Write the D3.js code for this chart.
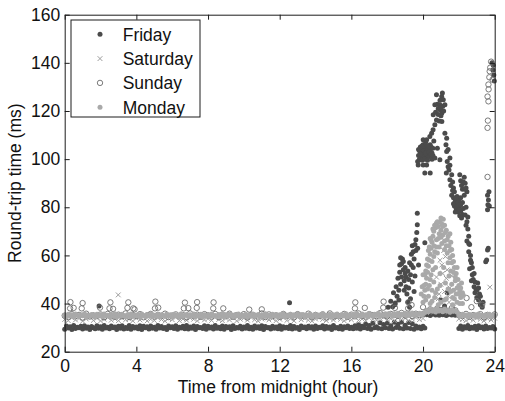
<!DOCTYPE html>
<html>
<head>
<meta charset="utf-8">
<script src="https://cdn.jsdelivr.net/npm/d3@7"></script>
<style>
  html, body { margin: 0; padding: 0; background: #fff; }
  text { font-family: "Liberation Sans", Arial, Helvetica, sans-serif; fill: #111; }
</style>
</head>
<body>
<svg id="chart" width="505" height="401"></svg>
<script>
// Axis ticks
const xTicks = [0, 4, 8, 12, 16, 20, 24];
const yTicks = [20, 40, 60, 80, 100, 120, 140, 160];
const seriesNames = ["Friday", "Saturday", "Sunday", "Monday"];

// Steady-state round-trip times (ms), one reading every fridayStep hours from midnight
const fridayStep = 0.1;
const fridayBase = [
  29.3, 30.7, 29.8, 30.4, 29.2, 30.9, 29.6, 30.2, 29.9, 30.6, 29.4, 30.8, 29.7, 30.3, 29.2, 30.5, 30.0, 29.5, 30.8, 29.7,
  30.4, 29.3, 30.9, 29.8, 30.2, 29.5, 30.7, 29.9, 30.3, 29.2, 30.6, 29.7, 30.8, 29.4, 30.1, 29.6, 30.9, 29.3, 30.5, 29.8,
  30.3, 29.5, 30.8, 29.2, 30.6, 29.9, 30.4, 29.4, 30.7, 29.7, 30.2, 29.3, 30.9, 29.8, 30.5, 29.6, 30.1, 29.2, 30.7, 29.9,
  30.4, 29.6, 30.8, 29.3, 30.2, 29.8, 30.6, 29.5, 30.9, 29.4, 30.3, 29.7, 30.7, 29.2, 30.5, 29.9, 30.1, 29.6, 30.8, 29.3,
  30.6, 29.8, 30.3, 29.4, 30.9, 29.7, 30.2, 29.5, 30.7, 29.3, 30.5, 29.9, 30.4, 29.2, 30.8, 29.6, 30.1, 29.8, 30.6, 29.4,
  30.3, 29.7, 30.9, 29.5, 30.2, 29.3, 30.7, 29.8, 30.4, 29.6, 30.8, 29.2, 30.5, 29.9, 30.1, 29.4, 30.6, 29.7, 30.3, 29.5,
  30.8, 29.3, 30.4, 29.8, 30.2, 29.6, 30.9, 29.4, 30.5, 29.7, 30.1, 29.2, 30.7, 29.9, 30.3, 29.5, 30.6, 29.8, 30.4, 29.3,
  30.7, 29.6, 30.2, 29.9, 30.8, 29.4, 30.5, 29.7, 30.3, 29.2, 30.9, 29.8, 30.1, 29.5, 30.6, 29.3, 30.4, 29.9, 30.7, 29.6,
  30.2, 29.5, 30.8, 29.7, 31.2, 29.4, 30.6, 29.9, 31.5, 29.6, 30.9, 29.3, 31.8, 30.0, 30.4, 29.7, 32.0, 29.5, 31.3, 29.9,
  31.9, 29.6, 30.8, 29.4, 32.2, 30.1, 31.4, 29.7, 32.3, 29.5, 31.0, 29.8, 32.1, 29.6, 31.6, 29.3, 30.7, 29.8, 30.3, 29.5,
  30.6, 29.8, 35.3, 35.9, 35.0, 35.6, 36.0, 35.2, 35.7, 35.1, 35.9, 35.4, 35.8, 35.0, 35.5, 36.1, 35.2, 35.7, 35.1, 35.8,
  29.6, 30.7, 29.3, 30.4, 29.8, 30.9, 29.5, 30.2, 29.7, 30.6, 29.2, 30.8, 29.9, 30.3, 29.4, 30.7, 29.6, 30.1, 29.8, 30.5,
  29.4
];
// Friday evening congestion and isolated spikes: [hour, ms]
const fridayPeak = [
  [1.92, 39.0], [12.55, 40.3], [18.43, 39.5],
  [18.05, 38.5], [18.2, 41.0], [18.3, 38.7], [18.35, 44.5], [18.45, 40.2], [18.5, 47.0], [18.55, 43.0],
  [18.6, 50.5], [18.65, 45.5], [18.7, 53.0], [18.75, 48.0], [18.8, 56.5], [18.8, 51.0], [18.85, 58.5],
  [18.9, 54.0], [18.95, 49.5], [19.0, 52.5], [19.05, 47.0], [19.1, 44.0], [19.15, 40.5], [19.2, 46.5],
  [19.25, 38.5], [19.3, 52.0], [19.3, 42.0], [19.35, 56.0], [19.35, 60.5], [19.4, 64.0], [19.4, 49.0],
  [19.45, 55.0], [19.5, 58.5], [19.5, 45.0], [19.55, 51.5], [19.6, 62.0], [19.6, 66.5], [19.65, 69.5],
  [19.68, 72.7], [19.68, 77.5], [19.7, 63.0], [19.75, 56.0], [20.1, 65.3],
  [18.7, 56.0], [18.75, 59.0], [18.9, 57.5], [19.0, 55.0], [19.05, 51.0], [19.15, 53.5], [19.2, 50.0],
  [19.25, 57.0], [18.95, 45.5], [18.65, 41.5], [19.45, 61.5], [19.55, 64.5],
  [19.73, 97.6], [20.01, 97.6], [20.2, 97.6], [20.1, 94.2], [20.4, 94.2], [19.7, 99.0], [19.75, 101.5],
  [19.8, 103.5], [19.85, 105.0], [19.9, 100.5], [19.95, 102.5], [20.0, 104.5], [20.0, 106.0], [20.05, 101.0],
  [20.1, 103.0], [20.15, 105.5], [20.2, 100.5], [20.25, 102.0], [20.3, 104.0], [20.35, 101.5], [20.4, 103.5],
  [20.45, 105.0], [20.5, 102.5], [20.55, 104.5], [19.9, 104.0], [20.05, 103.5], [20.2, 103.5], [20.3, 101.0],
  [19.8, 100.0], [19.85, 102.0], [19.95, 99.5], [20.05, 105.5], [20.1, 100.0], [20.15, 102.5], [20.25, 104.5],
  [20.35, 103.0], [20.45, 102.0], [20.5, 100.0], [20.4, 106.0], [19.95, 105.5], [20.25, 99.5], [20.55, 101.5],
  [20.15, 107.0], [19.75, 104.0],
  [20.01, 108.0], [20.2, 108.0], [20.3, 105.5], [20.38, 109.4], [20.48, 110.8], [20.56, 112.2], [20.66, 114.3],
  [20.57, 118.4], [20.75, 116.3], [20.9, 115.8], [21.05, 115.6], [20.94, 120.5], [21.05, 119.2], [21.0, 118.0],
  [20.66, 122.6], [20.8, 122.8], [20.94, 122.6], [21.1, 122.0], [21.22, 122.6], [20.85, 121.0], [21.0, 121.5],
  [20.75, 126.7], [21.04, 126.0], [21.13, 124.7], [21.08, 127.5], [20.7, 119.5], [20.85, 118.5], [20.95, 124.5],
  [21.15, 120.0], [20.66, 100.5], [20.94, 99.7], [20.8, 104.5],
  [20.6, 107.5], [21.22, 110.8], [21.32, 108.7], [21.32, 103.2], [21.4, 104.0], [21.5, 100.5], [21.5, 97.5],
  [21.45, 95.5], [21.4, 96.8], [21.3, 94.2], [21.5, 91.4], [21.35, 99.0], [21.28, 106.0],
  [21.6, 93.5], [21.65, 90.5], [21.7, 88.0], [21.75, 86.4], [21.6, 85.0], [21.7, 84.0], [21.8, 82.5],
  [21.75, 80.5], [21.85, 79.5], [21.9, 81.5], [21.95, 78.0], [22.0, 80.0], [22.05, 76.5], [22.1, 78.5],
  [22.15, 75.5], [22.0, 83.0], [22.1, 84.0], [22.2, 82.0], [21.9, 84.5], [22.05, 93.5], [22.1, 91.0],
  [22.15, 89.0], [22.2, 87.5], [22.3, 92.5], [22.35, 90.0], [22.4, 88.0], [22.45, 86.4], [22.3, 85.0],
  [21.7, 81.5], [21.8, 78.0], [21.85, 84.0], [21.95, 82.0], [22.05, 79.0], [22.1, 81.0], [22.2, 77.0],
  [21.65, 87.0], [21.55, 89.0], [22.25, 90.5], [22.35, 87.5], [22.25, 79.5],
  [22.4, 80.0], [22.35, 76.8], [22.45, 74.0], [22.5, 71.0], [22.55, 68.0], [22.45, 66.0], [22.6, 64.5],
  [22.55, 61.5], [22.65, 60.0], [22.7, 57.0], [22.6, 54.5], [22.75, 52.0], [22.7, 49.5], [22.8, 50.0],
  [22.85, 47.0], [22.9, 44.5], [22.95, 46.0], [23.0, 42.5], [23.05, 48.5], [23.1, 41.5], [23.15, 44.0],
  [22.5, 76.0], [22.4, 72.5], [22.55, 65.0], [22.65, 58.0], [22.75, 55.0], [22.85, 52.5], [22.9, 49.0],
  [23.0, 45.5], [23.1, 46.5], [23.2, 43.0],
  [23.2, 39.5], [23.3, 38.5], [23.35, 40.5], [21.0, 41.5], [21.2, 39.0], [21.35, 44.5],
  [23.5, 57.4], [23.55, 58.1], [23.6, 62.3], [23.64, 63.0], [23.6, 79.0], [23.62, 81.0], [23.65, 83.0],
  [23.6, 85.0], [23.68, 86.4], [23.7, 80.5], [23.85, 140.0], [23.9, 137.0], [23.95, 135.0], [23.98, 132.5],
  [23.92, 139.0]
];

// Saturday: one reading every saturdayStep hours
const saturdayStep = 0.2;
const saturdayBase = [
  33.4, 32.9, 34.1, 33.2, 33.8, 32.7, 33.6, 34.3, 33.0, 33.9, 32.8, 33.5, 34.2, 33.1, 33.7, 32.9, 34.0, 33.3, 33.6, 32.8,
  33.9, 33.2, 34.4, 32.8, 33.5, 33.0, 34.1, 33.4, 32.7, 33.8, 33.3, 34.2, 32.9, 33.6, 33.1, 34.0, 33.5, 32.8, 33.9, 33.2,
  33.7, 33.0, 34.3, 33.4, 32.9, 33.8, 33.2, 34.1, 32.8, 33.5, 33.9, 33.1, 34.2, 33.3, 32.7, 33.6, 34.0, 33.2, 33.8, 32.9,
  33.5, 34.1, 33.0, 33.7, 32.8, 34.3, 33.3, 33.9, 33.1, 32.7, 33.6, 34.2, 33.4, 32.9, 33.8, 33.2, 34.0, 33.5, 32.8, 33.7,
  33.3, 34.2, 33.0, 33.6, 32.9, 34.0, 33.5, 33.1, 33.8, 34.3, 33.2, 33.7, 32.9, 34.1, 33.4, 33.9, 33.0, 33.6, 34.2, 33.3,
  33.8, 36.2, 37.0, 36.5, 37.4, 36.7, 37.2, 36.4, 37.5, 36.8,
  33.6, 33.4, 32.9, 33.8, 33.1, 34.0, 33.5, 32.8, 33.7, 33.2, 33.9
];
const saturdayPeak = [
  [2.99, 43.6], [23.73, 46.8],
  [20.9, 44.0], [21.0, 48.0], [21.1, 52.5], [21.2, 45.0], [21.3, 50.5], [21.4, 43.0], [21.05, 56.0],
  [21.25, 59.5], [21.15, 62.0], [20.95, 58.0], [21.35, 54.0], [21.5, 46.5], [20.75, 51.0], [21.6, 51.5],
  [20.85, 42.0], [21.45, 40.5], [21.7, 38.5]
];

// Sunday: one reading every sundayStep hours
const sundayStep = 0.2;
const sundayBase = [
  35.0, 34.4, 35.6, 34.8, 35.3, 34.2, 35.8, 34.6, 35.1, 34.9, 35.5, 34.3, 35.7, 35.0, 34.5, 35.4, 34.7, 35.9, 34.4, 35.2,
  34.8, 35.6, 34.3, 35.1, 35.7, 34.6, 35.3, 34.9, 35.8, 34.4, 35.0, 35.5, 34.7, 35.2, 34.3, 35.9, 34.8, 35.4, 34.5, 35.6,
  35.1, 34.6, 35.7, 34.3, 35.4, 34.9, 35.8, 34.5, 35.2, 34.7, 35.6, 34.2, 35.3, 35.0, 34.6, 35.9, 34.4, 35.5, 34.8, 35.1,
  34.5, 35.7, 34.9, 35.2, 34.3, 35.6, 35.0, 34.7, 35.8, 34.4, 35.3, 34.8, 35.5, 34.2, 35.9, 34.6, 35.1, 34.9, 35.7, 34.5,
  35.4, 34.7, 35.9, 35.0, 34.6, 35.6, 35.2, 34.8, 36.0, 35.1, 34.7, 35.7, 35.3, 34.9, 36.1, 35.0, 35.5, 34.8, 35.8, 35.2,
  35.6, 36.8, 37.6, 37.0, 38.0, 37.3, 37.8, 36.9, 38.1, 37.2,
  35.4, 34.8, 35.7, 34.5, 35.2, 34.9, 35.6, 34.3, 35.3, 34.7, 35.5
];
const sundayPeak = [
  [0.3, 38.0], [0.32, 40.6], [0.5, 38.2], [0.95, 38.0], [1.0, 40.2], [1.97, 38.3], [2.5, 38.0], [2.55, 40.5],
  [2.7, 37.8], [3.5, 38.2], [3.55, 40.5], [3.83, 38.0], [3.9, 37.6], [5.04, 38.0], [5.06, 40.8], [5.22, 38.3],
  [6.65, 38.0], [6.71, 40.4], [6.9, 38.1], [7.37, 38.2], [7.39, 40.6], [8.29, 38.0], [8.31, 40.5], [8.85, 38.0],
  [10.3, 37.5], [11.0, 37.6], [16.2, 38.0], [16.22, 40.5], [16.75, 38.2], [17.78, 38.3], [17.8, 40.8],
  [18.43, 38.2], [19.17, 38.0], [19.19, 40.6], [19.36, 39.4], [20.0, 38.5], [22.43, 42.3], [23.0, 41.0],
  [22.7, 38.5], [23.3, 39.5],
  [23.6, 92.6], [23.6, 113.0], [23.62, 116.0], [23.65, 124.0], [23.6, 126.0], [23.65, 131.0], [23.7, 134.0],
  [23.75, 138.0], [23.8, 140.5], [23.72, 136.5], [23.88, 133.0], [23.66, 129.0]
];

// Monday: one reading every mondayStep hours
const mondayStep = 0.1;
const mondayBase = [
  35.0, 34.5, 35.6, 34.8, 35.3, 34.4, 35.7, 35.1, 34.6, 35.4, 34.9, 35.8, 34.5, 35.2, 34.7, 35.5, 35.0, 34.4, 35.6, 34.8,
  35.3, 34.6, 35.7, 34.9, 35.1, 34.5, 35.5, 34.8, 35.8, 34.4, 35.2, 34.7, 35.6, 35.0, 34.5, 35.4, 34.9, 35.7, 34.6, 35.2,
  34.8, 35.5, 34.4, 35.7, 35.0, 34.6, 35.3, 34.9, 35.8, 34.5, 35.1, 34.7, 35.6, 34.4, 35.4, 35.0, 34.6, 35.7, 34.8, 35.3,
  34.5, 35.6, 34.9, 35.2, 34.4, 35.8, 34.7, 35.0, 35.5, 34.6, 35.3, 34.8, 35.7, 34.5, 35.1, 34.9, 35.6, 34.4, 35.4, 34.7,
  35.2, 34.6, 35.7, 34.9, 35.0, 34.5, 35.5, 34.8, 35.8, 34.4, 35.3, 34.7, 35.6, 35.0, 34.6, 35.4, 34.9, 35.7, 34.5, 35.1,
  34.8, 35.6, 34.4, 35.3, 34.9, 35.7, 34.6, 35.0, 35.5, 34.5, 35.2, 34.8, 35.8, 34.7, 35.1, 34.4, 35.6, 34.9, 35.3, 34.6,
  35.4, 34.7, 35.8, 34.5, 35.0, 34.9, 35.6, 34.4, 35.3, 34.8, 35.7, 34.6, 35.1, 35.5, 34.5, 35.2, 34.8, 35.7, 34.4, 35.0,
  35.5, 34.6, 35.2, 34.9, 35.8, 34.5, 35.1, 34.7, 35.6, 34.4, 35.3, 34.9, 35.7, 34.6, 35.0, 35.4, 34.8, 35.8, 34.5, 35.2,
  34.9, 35.6, 34.6, 35.9, 35.1, 34.7, 35.7, 35.0, 35.4, 34.6, 35.9, 35.2, 34.8, 35.6, 35.0, 36.0, 34.7, 35.4, 35.1, 35.8,
  34.9, 35.9, 35.3, 34.7, 35.8, 35.1, 36.0, 34.9, 35.6, 35.3, 36.0, 35.0, 35.7, 35.4, 36.1, 35.1, 35.8, 35.5, 36.0, 35.3,
  35.8, 36.3, 37.1, 36.6, 37.5, 36.9, 37.3, 36.5, 37.7, 37.0, 37.2, 36.6, 37.6, 36.9, 37.1, 36.4, 37.4, 36.8, 37.0, 36.5,
  35.3, 34.7, 35.6, 34.9, 35.2, 34.5, 35.5, 35.0, 34.8, 35.4, 34.4, 35.7, 34.9, 35.1, 34.6, 35.4, 34.8, 35.6, 34.5, 35.2,
  34.9
];
const mondayPeak = [
  [19.9, 44.0], [19.95, 47.0], [20.0, 52.0],
  [20.0, 40.5], [20.05, 43.0], [20.1, 45.5], [20.15, 48.0], [20.2, 50.5], [20.1, 52.0], [20.25, 53.0],
  [20.3, 55.5], [20.2, 56.0], [20.35, 58.0], [20.4, 60.5], [20.3, 62.0], [20.45, 63.0], [20.5, 65.5],
  [20.4, 67.0], [20.55, 68.0], [20.6, 70.0], [20.7, 71.5], [20.75, 73.5], [20.85, 72.0], [20.95, 74.0],
  [21.05, 73.0], [21.13, 75.0], [21.2, 72.5], [21.3, 70.5], [21.4, 68.0], [21.5, 69.0], [21.55, 65.5],
  [21.6, 62.5], [21.65, 60.0], [21.7, 57.5], [21.75, 55.0], [21.85, 52.5], [21.9, 55.0], [21.95, 50.0],
  [22.0, 47.5], [22.05, 45.0], [22.1, 42.5], [22.2, 40.0], [22.25, 43.5], [22.15, 48.5],
  [20.6, 64.0], [20.75, 66.5], [20.9, 69.0], [21.0, 70.5], [21.1, 68.5], [21.2, 66.0], [21.3, 64.0],
  [21.35, 61.0], [20.8, 61.0], [20.9, 63.5], [21.05, 65.0], [20.5, 57.5], [20.6, 59.5], [20.7, 55.0],
  [21.4, 57.0], [21.5, 59.0], [21.55, 53.5], [20.45, 52.0], [20.35, 47.5], [20.5, 45.5], [20.6, 49.0],
  [20.65, 42.5], [21.6, 48.0], [21.7, 45.5], [21.75, 42.0], [21.8, 49.5], [20.3, 43.0], [20.8, 46.0],
  [21.65, 39.5], [20.4, 40.0], [21.9, 40.5], [21.25, 48.5], [20.95, 52.5], [21.15, 55.0], [21.3, 42.0],
  [21.0, 40.5], [20.85, 39.5],
  [20.05, 47.5], [20.15, 53.5], [20.25, 58.5], [20.35, 63.5], [20.45, 66.5], [20.55, 71.0], [20.65, 72.5],
  [20.8, 74.0], [21.0, 75.5], [21.1, 72.0], [21.25, 69.5], [21.35, 66.5], [21.45, 64.0], [21.5, 62.0],
  [21.6, 57.0], [21.7, 53.0], [21.8, 51.0], [21.9, 46.5], [22.0, 44.0], [22.1, 46.5], [22.2, 44.5],
  [20.25, 46.0], [20.4, 50.0], [20.55, 54.0], [20.65, 61.5], [20.75, 63.5], [20.85, 67.0], [21.0, 67.5],
  [21.2, 62.5], [21.45, 51.5], [21.55, 45.0], [21.65, 42.5], [20.15, 41.5], [20.5, 41.0], [21.85, 44.0],
  [22.05, 40.0], [20.7, 44.5], [20.95, 47.5], [21.2, 41.5], [21.4, 46.0]
];

// ---- layout ----
const svg = d3.select("#chart");
const plot = { left: 64.7, right: 494.7, top: 14.7, bottom: 351.7 };
const x = d3.scaleLinear().domain([0, 24]).range([plot.left, plot.right]);
const y = d3.scaleLinear().domain([20, 160]).range([plot.bottom, plot.top]);
const axisColor = "#1c1c1c";
const fontSize = 17.5;

const withTimes = (values, step) => values.map((v, i) => [i * step, v]);

const series = [
  { name: seriesNames[0], shape: "dot",    color: "#4b4b4b", points: withTimes(fridayBase, fridayStep).concat(fridayPeak) },
  { name: seriesNames[1], shape: "cross",  color: "#9e9e9e", points: withTimes(saturdayBase, saturdayStep).concat(saturdayPeak) },
  { name: seriesNames[2], shape: "circle", color: "#6c6c6c", points: withTimes(sundayBase, sundayStep).concat(sundayPeak) },
  { name: seriesNames[3], shape: "dot",    color: "#a9a9a9", points: withTimes(mondayBase, mondayStep).concat(mondayPeak) }
];

function drawMarker(sel, shape, color) {
  if (shape === "dot") {
    sel.append("circle").attr("r", 2.5).attr("fill", color);
  } else if (shape === "circle") {
    sel.append("circle").attr("r", 2.7).attr("fill", "none").attr("stroke", color).attr("stroke-width", 0.9);
  } else {
    sel.append("path").attr("d", "M-2.4,-2.4L2.4,2.4M-2.4,2.4L2.4,-2.4")
      .attr("stroke", color).attr("stroke-width", 1).attr("fill", "none");
  }
}

// markers, Friday first so Monday ends up on top
series.forEach(s => {
  const g = svg.append("g").attr("class", "series");
  const marks = g.selectAll("g").data(s.points).join("g")
    .attr("transform", d => `translate(${x(d[0])},${y(d[1])})`);
  drawMarker(marks, s.shape, s.color);
});

// axes with inward ticks on every side
const styleAxis = g => {
  g.selectAll(".domain").attr("stroke", axisColor);
  g.selectAll(".tick line").attr("stroke", axisColor);
  g.selectAll(".tick text").attr("font-size", fontSize).attr("fill", "#111")
    .attr("font-family", '"Liberation Sans", Arial, sans-serif');
};
svg.append("g").attr("transform", `translate(0,${plot.bottom})`)
  .call(d3.axisBottom(x).tickValues(xTicks).tickSizeInner(-5).tickSizeOuter(0).tickPadding(7.5))
  .call(styleAxis);
svg.append("g").attr("transform", `translate(${plot.left},0)`)
  .call(d3.axisLeft(y).tickValues(yTicks).tickSizeInner(-5).tickSizeOuter(0).tickPadding(4.5))
  .call(styleAxis);
svg.append("g").attr("transform", `translate(0,${plot.top})`)
  .call(d3.axisTop(x).tickValues(xTicks).tickSizeInner(-5).tickSizeOuter(0).tickFormat(""))
  .call(styleAxis);
svg.append("g").attr("transform", `translate(${plot.right},0)`)
  .call(d3.axisRight(y).tickValues(yTicks).tickSizeInner(-5).tickSizeOuter(0).tickFormat(""))
  .call(styleAxis);

// axis titles
svg.append("text")
  .attr("x", 278).attr("y", 393)
  .attr("text-anchor", "middle").attr("font-size", fontSize)
  .text("Time from midnight (hour)");
svg.append("text")
  .attr("transform", `translate(20.5,${(plot.top + plot.bottom) / 2}) rotate(-90)`)
  .attr("text-anchor", "middle").attr("font-size", fontSize)
  .text("Round-trip time (ms)");

// legend
const legend = svg.append("g");
legend.append("rect").attr("x", 71).attr("y", 20).attr("width", 129).attr("height", 97)
  .attr("fill", "#fff").attr("stroke", axisColor);
series.forEach((s, i) => {
  const row = legend.append("g").attr("transform", `translate(0,${34.3 + i * 24.3})`);
  const m = row.append("g").attr("transform", "translate(100,0)");
  drawMarker(m, s.shape, s.color);
  row.append("text").attr("x", 122.7).attr("dy", "0.36em").attr("font-size", fontSize).text(s.name);
});
</script>
</body>
</html>
